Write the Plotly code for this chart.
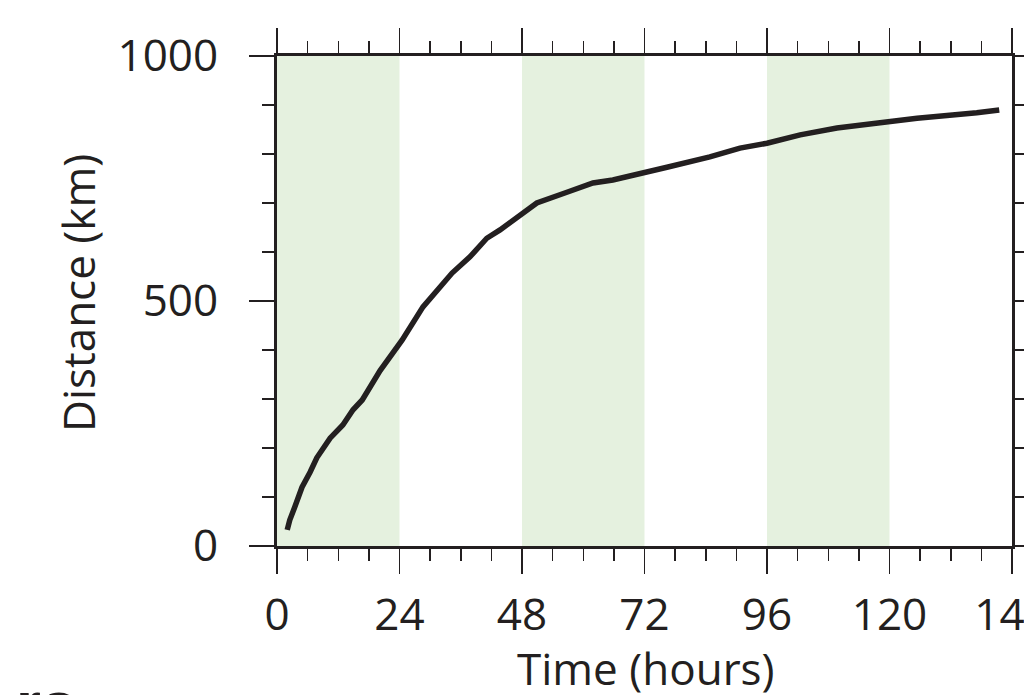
import plotly.graph_objects as go

# Data
hours = [2.0, 2.5, 3.5, 4.9, 6.5, 7.8, 10.4, 12.9, 14.9, 16.7, 20.2, 24.5, 28.6, 31.5,
         34.3, 37.8, 41.1, 43.7, 47.0, 50.9, 56.8, 61.9, 65.8, 71.7, 76.4, 84.8, 90.7,
         96.0, 102.5, 109.7, 118.7, 125.4, 137.1, 141.5]
distance_km = [33, 53, 80, 120, 151, 180, 220, 247, 278, 298, 358, 420, 488, 522,
               557, 590, 628, 645, 671, 700, 722, 741, 747, 763, 773, 794, 812,
               822, 839, 853, 865, 873, 884, 890]

band_starts = [0, 48, 96]
band_width = 24
x_ticks = [0, 24, 48, 72, 96, 120, 144]
y_ticks = [0, 500, 1000]

FONT = "Open Sans"
INK = "#231f20"
GREEN = "#e5f1df"
FS = 44

fig = go.Figure()
fig.add_trace(go.Scatter(x=hours, y=distance_km, mode="lines",
                         line=dict(color=INK, width=5.5), showlegend=False))

for s in band_starts:
    fig.add_shape(type="rect", xref="x", yref="paper", x0=s, x1=s + band_width,
                  y0=0, y1=1, fillcolor=GREEN, line=dict(width=0), layer="below")

axis_common = dict(
    showline=True, linecolor=INK, linewidth=3, mirror="allticks",
    ticks="outside", ticklen=25, tickwidth=1.5, tickcolor=INK,
    showgrid=False, zeroline=False, automargin=False,
    ticklabeloverflow="allow",
    tickfont=dict(family=FONT, size=FS, color=INK),
)

fig.update_xaxes(range=[0, 144], tickvals=x_ticks, ticktext=[str(v) for v in x_ticks],
                 minor=dict(dtick=6, ticks="outside", ticklen=12, tickwidth=1.5,
                            tickcolor=INK, showgrid=False),
                 ticklabelstandoff=3,
                 **axis_common)
fig.update_yaxes(range=[0, 1000], tickvals=y_ticks, ticktext=[str(v) for v in y_ticks],
                 minor=dict(dtick=100, ticks="outside", ticklen=12, tickwidth=1.5,
                            tickcolor=INK, showgrid=False),
                 ticklabelstandoff=22,
                 **axis_common)

L, R, T, B = 277, 12, 56, 149
PW, PH = 1024 - L - R, 695 - T - B


def px(xp):
    return (xp - L) / PW


def py(yp):
    return (695 - B - yp) / PH


fig.add_annotation(text="Distance (km)", xref="paper", yref="paper",
                   x=px(78), y=py(293), xanchor="center", yanchor="middle",
                   textangle=-90, showarrow=False,
                   font=dict(family=FONT, size=FS, color=INK))
fig.add_annotation(text="Time (hours)", xref="paper", yref="paper",
                   x=px(646), y=py(668), xanchor="center", yanchor="middle",
                   showarrow=False, font=dict(family=FONT, size=FS, color=INK))
# fragment of a neighbouring panel's label, cut by the bottom edge
fig.add_annotation(text="<b>rs</b>", xref="paper", yref="paper",
                   x=px(14), y=py(667), xanchor="left", yanchor="top",
                   showarrow=False,
                   font=dict(family="Liberation Sans", size=64, color=INK))

fig.update_layout(
    width=1024, height=695,
    margin=dict(l=L, r=R, t=T, b=B, pad=0, autoexpand=False),
    paper_bgcolor="white", plot_bgcolor="white",
    showlegend=False,
)

fig.write_html("out.html",
               config={"displayModeBar": False, "staticPlot": True},
               post_script="document.body.style.margin='0';"
                           "document.body.style.overflow='hidden';")
